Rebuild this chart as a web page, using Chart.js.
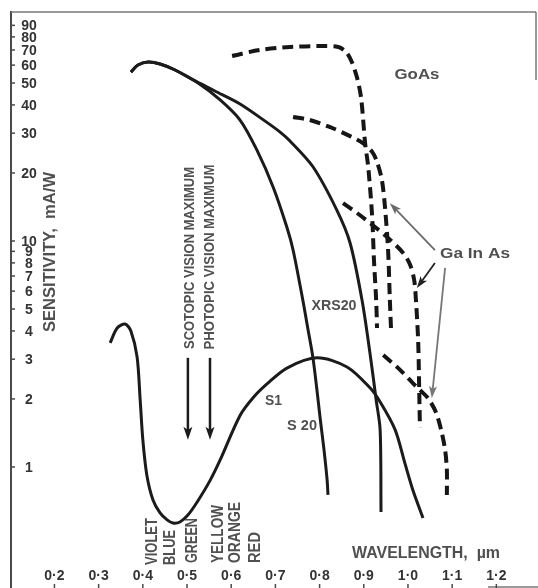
<!DOCTYPE html>
<html><head><meta charset="utf-8">
<script src="https://cdn.jsdelivr.net/npm/chart.js@4/dist/chart.umd.min.js"></script>
<style>html,body{margin:0;padding:0;background:#fff;}canvas{display:block;}</style>
</head><body>
<canvas id="c" width="538" height="588"></canvas>
<script>
// ---- tick values / labels ----
const xTickValues = [0.2,0.3,0.4,0.5,0.6,0.7,0.8,0.9,1.0,1.1,1.2];
const xTickLabels = ['0·2','0·3','0·4','0·5','0·6','0·7','0·8','0·9','1·0','1·1','1·2'];
const yTickValues = [1,2,3,4,5,6,7,8,9,10,20,30,40,50,60,70,80,90];
const yTickLabels = ['1','2','3','4','5','6','7','8','9','10','20','30','40','50','60','70','80','90'];

// ---- series (wavelength µm, sensitivity mA/W) ----
const s1X = [0.326,0.342,0.360,0.373,0.387,0.394,0.400,0.409,0.423,0.439,0.455,0.468,0.484,0.502,0.523,0.552,0.575,0.620,0.650,0.681,0.726,0.794,0.862,0.914,0.937,0.971,0.993,1.011,1.034];
const s1Y = [3.54,4.12,4.29,4.00,3.07,1.98,1.32,0.922,0.714,0.626,0.583,0.565,0.571,0.613,0.700,0.870,1.074,1.69,2.03,2.33,2.74,3.04,2.77,2.24,1.94,1.46,1.04,0.791,0.595];

const s20X = [0.373,0.389,0.412,0.439,0.473,0.525,0.575,0.620,0.658,0.695,0.726,0.740,0.762,0.774,0.785,0.794,0.801,0.810,0.817,0.819];
const s20Y = [55.9,60.1,61.9,60.7,57.1,50.0,42.1,34.3,25.3,17.3,11.5,9.12,5.48,4.04,3.04,2.19,1.66,1.19,0.876,0.752];

const xrs20X = [0.373,0.389,0.412,0.439,0.473,0.514,0.563,0.620,0.676,0.710,0.733,0.785,0.839,0.869,0.896,0.914,0.928,0.937,0.939];
const xrs20Y = [55.9,60.1,61.9,60.7,57.1,51.6,46.1,40.4,34.0,30.4,27.7,21.3,13.7,9.80,5.48,3.19,1.98,1.46,0.632];

const gaasX = [0.602,0.665,0.733,0.801,0.842,0.860,0.873,0.885,0.894,0.903,0.910,0.919,0.923,0.928,0.930];
const gaasY = [65.9,70.0,72.2,72.9,72.2,68.6,61.9,52.6,42.9,27.1,21.3,12.8,8.24,5.48,4.12];

const gainasAX = [0.740,0.778,0.824,0.869,0.898,0.919,0.930,0.941,0.948,0.955,0.959,0.962];
const gainasAY = [35.4,34.3,31.9,29.1,27.1,24.8,22.4,18.6,14.1,9.12,5.48,3.92];

const gainasBX = [0.853,0.887,0.919,0.953,0.989,1.005,1.014,1.018,1.023,1.025,1.027];
const gainasBY = [14.7,13.2,11.8,10.4,8.85,7.83,6.72,5.48,3.65,2.43,1.50];

const gainasCX = [0.944,0.982,1.011,1.027,1.045,1.063,1.075,1.084,1.088,1.088];
const gainasCY = [3.13,2.69,2.35,2.19,2.02,1.75,1.46,1.19,0.970,0.752];

// annotation arrows, in data units [µm, mA/W]
const visionArrows = [[0.502,3.04,0.502,1.32],[0.552,3.04,0.552,1.32]];
const gainasArrows = [[1.061,9.12,0.959,14.7,'#6a6a6a'],[1.061,7.99,1.020,6.19,'#222'],[1.084,7.60,1.054,2.02,'#777']];

function pts(xs, ys){ return xs.map((x,i)=>({x:x,y:ys[i]})); }

function solid(xs, ys){
  return {data:pts(xs,ys), showLine:true, borderColor:'#1b1b1b', borderWidth:3, tension:0.3, pointRadius:0, fill:false};
}
function dashed(xs, ys){
  return {data:pts(xs,ys), showLine:true, borderColor:'#161616', borderWidth:4, borderDash:[11,6], borderCapStyle:'butt', tension:0.3, pointRadius:0, fill:false};
}

function fitText(ctx, str, cx, cy, w, h, rot, color, weight){
  ctx.save();
  ctx.translate(cx, cy);
  if (rot) ctx.rotate(rot);
  const size = h/0.72;
  ctx.font = (weight||'bold') + ' ' + size + 'px "Liberation Sans", Arial, sans-serif';
  const m = ctx.measureText(str).width;
  ctx.scale(w/m, 1);
  ctx.textAlign = 'center';
  ctx.textBaseline = 'alphabetic';
  ctx.fillStyle = color;
  ctx.fillText(str, 0, h/2);
  ctx.restore();
}

function arrow(ctx, x1, y1, x2, y2, color, lw, hl, hw){
  const a = Math.atan2(y2-y1, x2-x1);
  ctx.save();
  ctx.strokeStyle = color; ctx.fillStyle = color; ctx.lineWidth = lw;
  ctx.beginPath(); ctx.moveTo(x1,y1); ctx.lineTo(x2 - Math.cos(a)*hl*0.6, y2 - Math.sin(a)*hl*0.6); ctx.stroke();
  ctx.translate(x2,y2); ctx.rotate(a);
  ctx.beginPath(); ctx.moveTo(0,0); ctx.lineTo(-hl, hw/2); ctx.lineTo(-hl*0.75,0); ctx.lineTo(-hl,-hw/2); ctx.closePath(); ctx.fill();
  ctx.restore();
}

const decor = {
  id:'decor',
  afterDatasetsDraw(chart){
    const ctx = chart.ctx, xs = chart.scales.x, ys = chart.scales.y, a = chart.chartArea;
    ctx.save();
    // frame
    ctx.strokeStyle = '#4a4a4a'; ctx.lineWidth = 2;
    ctx.beginPath(); ctx.moveTo(a.left, a.top-1); ctx.lineTo(a.left, 588); ctx.stroke();
    ctx.strokeStyle = '#777'; ctx.lineWidth = 1.5;
    ctx.beginPath(); ctx.moveTo(a.left, a.top); ctx.lineTo(a.right, a.top); ctx.stroke();
    ctx.beginPath(); ctx.moveTo(a.right, a.top); ctx.lineTo(a.right, 80); ctx.stroke();
    ctx.beginPath(); ctx.moveTo(488, a.bottom); ctx.lineTo(538, a.bottom); ctx.stroke();
    // y ticks
    ctx.strokeStyle = '#4a4a4a'; ctx.lineWidth = 1.5;
    ctx.fillStyle = '#333';
    ctx.font = 'bold 14px "Liberation Sans", Arial, sans-serif';
    ctx.textAlign = 'center'; ctx.textBaseline = 'middle';
    yTickValues.forEach((v,i)=>{
      const y = ys.getPixelForValue(v);
      ctx.beginPath(); ctx.moveTo(a.left, y); ctx.lineTo(a.left+4, y); ctx.stroke();
      ctx.fillText(yTickLabels[i], 29, y+1);
    });
    // x ticks
    xTickValues.forEach((v,i)=>{
      const x = xs.getPixelForValue(v);
      ctx.beginPath(); ctx.moveTo(x, a.bottom-3); ctx.lineTo(x, 588); ctx.stroke();
      ctx.fillText(xTickLabels[i], x, 576);
    });
    // vision arrows
    visionArrows.forEach(r=>{
      arrow(ctx, xs.getPixelForValue(r[0]), ys.getPixelForValue(r[1]), xs.getPixelForValue(r[2]), ys.getPixelForValue(r[3]), '#1b1b1b', 2.5, 13, 9);
    });
    gainasArrows.forEach(r=>{
      arrow(ctx, xs.getPixelForValue(r[0]), ys.getPixelForValue(r[1]), xs.getPixelForValue(r[2]), ys.getPixelForValue(r[3]), r[4], 1.8, 12, 8);
    });
    // texts
    const g = '#505050', R = -Math.PI/2;
    fitText(ctx, 'SENSITIVITY,  mA/W', 49, 252, 160, 12, R, g);
    fitText(ctx, 'SCOTOPIC VISION MAXIMUM', 188, 258, 182, 11, R, g);
    fitText(ctx, 'PHOTOPIC VISION MAXIMUM', 208, 257, 185, 11, R, g);
    fitText(ctx, 'VIOLET', 151, 541.5, 47, 11.5, R, g);
    fitText(ctx, 'BLUE', 169, 547.5, 35, 11.5, R, g);
    fitText(ctx, 'GREEN', 191, 540.5, 45, 11.5, R, g);
    fitText(ctx, 'YELLOW', 217.5, 534, 58, 11.5, R, g);
    fitText(ctx, 'ORANGE', 234, 532.5, 61, 11.5, R, g);
    fitText(ctx, 'RED', 254, 547.5, 31, 11.5, R, g);
    fitText(ctx, 'WAVELENGTH,  µm', 426, 552.5, 148, 11.5, 0, g);
    fitText(ctx, 'GoAs', 417, 73, 45, 11, 0, g);
    fitText(ctx, 'Ga In As', 475, 252.5, 70, 11, 0, g);
    fitText(ctx, 'XRS20', 334, 305, 45, 10.5, 0, g);
    fitText(ctx, 'S1', 273.5, 399, 17, 11, 0, g);
    fitText(ctx, 'S 20', 302, 424, 30, 11, 0, g);
    ctx.restore();
  }
};

new Chart(document.getElementById('c').getContext('2d'), {
  type:'scatter',
  data:{datasets:[
    solid(s1X,s1Y), solid(s20X,s20Y), solid(xrs20X,xrs20Y),
    dashed(gaasX,gaasY), dashed(gainasAX,gainasAY), dashed(gainasBX,gainasBY), dashed(gainasCX,gainasCY)
  ]},
  options:{
    responsive:false, animation:false, devicePixelRatio:1,
    layout:{padding:{left:11, top:12, right:2, bottom:1}},
    plugins:{legend:{display:false}, tooltip:{enabled:false}},
    scales:{
      x:{type:'linear', min:0.1017, max:1.2897, display:false},
      y:{type:'logarithmic', min:0.2944, max:103.1, display:false}
    },
    elements:{point:{radius:0}}
  },
  plugins:[decor]
});
</script>
</body></html>
